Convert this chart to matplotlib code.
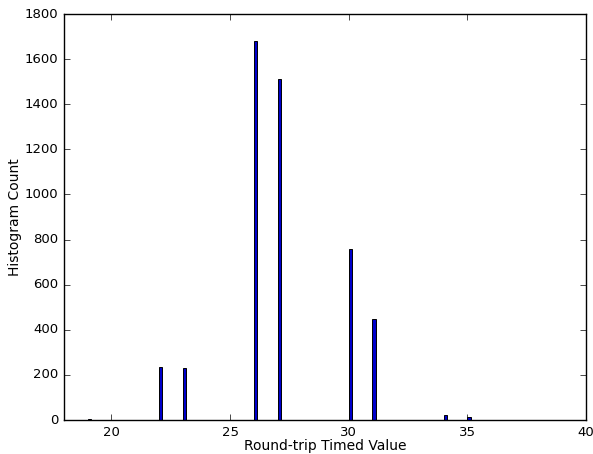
import matplotlib
matplotlib.use("Agg")
import matplotlib.pyplot as plt

plt.style.use("classic")

values = [19, 22, 23, 26, 27, 30, 31, 34, 35]
counts = [4, 235, 230, 1682, 1514, 758, 450, 22, 14]

fig = plt.figure(figsize=(5.93, 4.54), dpi=100, facecolor="white")
ax = fig.add_axes([64/593, 1 - 420/454, (586-64)/593, (420-14)/454])
ax.bar(values, counts, width=0.15, align="edge", color="#0000cc", edgecolor="k", linewidth=0.7)
ax.set_xlim(18, 40)
ax.set_ylim(0, 1800)
ax.set_xticks([20, 25, 30, 35, 40])
ax.set_yticks(range(0, 1801, 200))
ax.tick_params(labelsize=9.5)
ax.tick_params(axis="x", pad=4)
ax.tick_params(axis="y", pad=4)
ax.set_xlabel("Round-trip Timed Value", fontsize=10, labelpad=0)
ax.set_ylabel("Histogram Count", fontsize=10, labelpad=2)
fig.savefig("out.png", dpi=100, facecolor="white")
